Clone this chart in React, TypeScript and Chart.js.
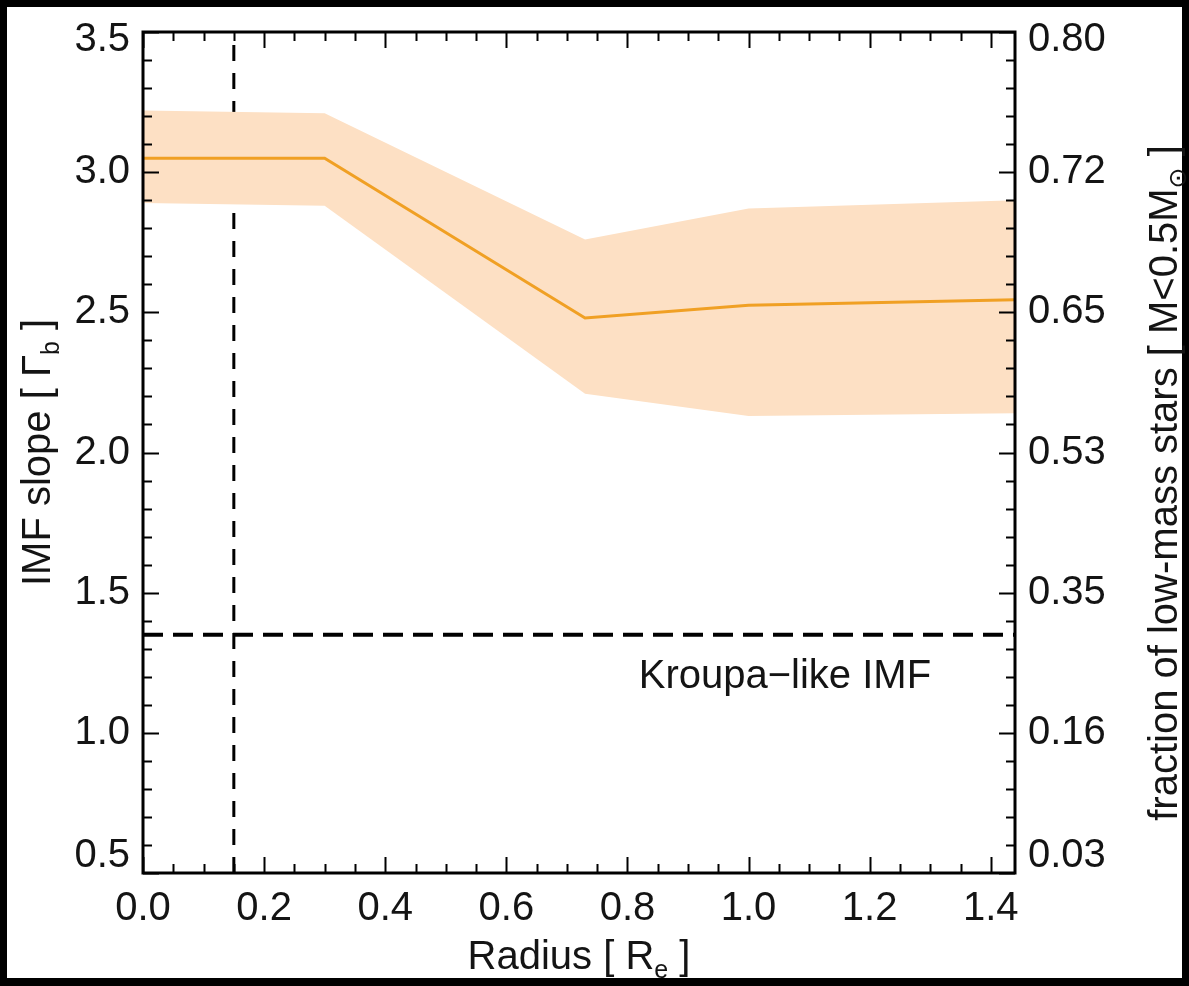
import React, { useEffect, useRef } from "react";
import { Chart, registerables } from "chart.js";

Chart.register(...registerables);

// ---- data ----
const radius = [0, 0.3, 0.73, 1.0, 1.44];
const imfSlope = [3.05, 3.05, 2.48, 2.525, 2.545];
const slopeUpper = [3.22, 3.21, 2.76, 2.87, 2.9];
const slopeLower = [2.89, 2.88, 2.21, 2.13, 2.14];

const kroupaSlope = 1.35;
const kroupaRadius = [0, 1.44];
const innerRadius = 0.15;
const innerSlopeRange = [0.5, 3.5];

const xTicks = [0, 0.2, 0.4, 0.6, 0.8, 1.0, 1.2, 1.4];
const yTicks = [0.5, 1.0, 1.5, 2.0, 2.5, 3.0, 3.5];
const fractionLabels = ["0.03", "0.16", "0.35", "0.53", "0.65", "0.72", "0.80"];

const kroupaText = "Kroupa\u2212like IMF";
const kroupaTextPos = { x: 1.06, y: 1.2 };

const FONT = '"Liberation Sans", Arial, "DejaVu Sans", sans-serif';
const W = 1189;
const H = 986;
const PLOT = { left: 143, right: 1015, top: 32, bottom: 873 };

type Part = { t: string; sub?: boolean };

function drawRich(ctx: CanvasRenderingContext2D, parts: Part[], cx: number, cy: number, rot: number, size: number) {
  ctx.save();
  ctx.translate(cx, cy);
  ctx.rotate(rot);
  const fMain = `${size}px ${FONT}`;
  const fSub = `${Math.round(size * 0.62)}px ${FONT}`;
  const widths: number[] = [];
  let total = 0;
  for (const p of parts) {
    ctx.font = p.sub ? fSub : fMain;
    const w = ctx.measureText(p.t).width;
    widths.push(w);
    total += w;
  }
  let x = -total / 2;
  ctx.textAlign = "left";
  ctx.textBaseline = "alphabetic";
  ctx.fillStyle = "#141414";
  const base = size * 0.36;
  parts.forEach((p, i) => {
    ctx.font = p.sub ? fSub : fMain;
    ctx.fillText(p.t, x, p.sub ? base + size * 0.22 : base);
    x += widths[i];
  });
  ctx.restore();
}

const decorPlugin = {
  id: "decor",
  beforeDraw(chart: any) {
    const ctx = chart.ctx as CanvasRenderingContext2D;
    ctx.save();
    ctx.fillStyle = "#000";
    ctx.fillRect(0, 0, W, H);
    ctx.fillStyle = "#fff";
    ctx.fillRect(7, 7, 1175, 971);
    ctx.restore();
  },
  afterDraw(chart: any) {
    const ctx = chart.ctx as CanvasRenderingContext2D;
    const a = chart.chartArea;
    const sx = chart.scales.x;
    const sy = chart.scales.y;
    ctx.save();
    ctx.strokeStyle = "#000";
    ctx.lineWidth = 2;
    ctx.beginPath();
    for (let k = 0; k <= 28; k++) {
      const px = Math.round(sx.getPixelForValue(k * 0.05)) + 0.5;
      const len = k % 4 === 0 ? 16 : 9;
      ctx.moveTo(px, a.bottom);
      ctx.lineTo(px, a.bottom - len);
      ctx.moveTo(px, a.top);
      ctx.lineTo(px, a.top + len);
    }
    for (let k = 0; k <= 30; k++) {
      const py = Math.round(sy.getPixelForValue(0.5 + k * 0.1)) + 0.5;
      const len = k % 5 === 0 ? 16 : 9;
      ctx.moveTo(a.left, py);
      ctx.lineTo(a.left + len, py);
      ctx.moveTo(a.right, py);
      ctx.lineTo(a.right - len, py);
    }
    ctx.stroke();
    ctx.lineWidth = 3;
    ctx.strokeRect(a.left, a.top, a.right - a.left, a.bottom - a.top);

    // Kroupa label
    ctx.font = `40px ${FONT}`;
    ctx.fillStyle = "#141414";
    ctx.textAlign = "center";
    ctx.textBaseline = "middle";
    ctx.fillText(kroupaText, sx.getPixelForValue(kroupaTextPos.x), sy.getPixelForValue(kroupaTextPos.y));
    ctx.restore();

    // axis titles
    drawRich(ctx, [{ t: "Radius [ R" }, { t: "e", sub: true }, { t: " ]" }], (a.left + a.right) / 2, 955, 0, 40);
    drawRich(ctx, [{ t: "IMF slope [ \u0393" }, { t: "b", sub: true }, { t: " ]" }], 36, (a.top + a.bottom) / 2, -Math.PI / 2, 40);
    drawRich(
      ctx,
      [{ t: "fraction of low-mass stars [ M<0.5M" }, { t: "\u2299", sub: true }, { t: " ]" }],
      1163,
      483,
      -Math.PI / 2,
      40
    );
  },
};

// end labels pulled slightly inward, as in the reference
const endLabel = (label: string, i: number, n: number) =>
  i === 0 ? [label, ""] : i === n - 1 ? ["", label] : label;
const yTickFont = (c: any) => ({
  family: FONT,
  size: 40,
  lineHeight: c.index === 0 ? "34px" : c.index === yTicks.length - 1 ? "16px" : 1.2,
});

export default function App() {
  const ref = useRef<HTMLCanvasElement | null>(null);
  useEffect(() => {
    document.body.style.margin = "0";
    document.body.style.background = "#000";
    const canvas = ref.current!;
    const pts = (ys: number[]) => radius.map((x, i) => ({ x, y: ys[i] }));
    const chart = new Chart(canvas, {
      type: "line",
      data: {
        datasets: [
          {
            data: pts(imfSlope),
            borderColor: "rgb(240,160,36)",
            borderWidth: 3,
            pointRadius: 0,
            fill: false,
          },
          {
            data: pts(slopeUpper),
            borderColor: "rgba(0,0,0,0)",
            borderWidth: 0,
            pointRadius: 0,
            fill: false,
          },
          {
            data: pts(slopeLower),
            borderColor: "rgba(0,0,0,0)",
            borderWidth: 0,
            pointRadius: 0,
            backgroundColor: "rgb(253,224,196)",
            fill: "-1",
          },
          {
            data: kroupaRadius.map((x) => ({ x, y: kroupaSlope })),
            borderColor: "#000",
            borderWidth: 4,
            borderDash: [20, 10],
            pointRadius: 0,
            fill: false,
          },
          {
            data: innerSlopeRange.map((y) => ({ x: innerRadius, y })),
            borderColor: "#000",
            borderWidth: 3,
            borderDash: [16, 12],
            pointRadius: 0,
            fill: false,
          },
        ],
      } as any,
      options: {
        responsive: false,
        animation: false,
        devicePixelRatio: 1,
        layout: { padding: { top: PLOT.top, left: 0, right: 0, bottom: 0 } },
        plugins: { legend: { display: false }, tooltip: { enabled: false } },
        scales: {
          x: {
            type: "linear",
            position: "bottom",
            min: 0,
            max: 1.44,
            grid: { display: false, drawTicks: false },
            border: { display: false },
            ticks: {
              padding: 12,
              font: { family: FONT, size: 40 },
              color: "#141414",
              maxRotation: 0,
              autoSkip: false,
              callback: (v: any) => Number(v).toFixed(1),
            },
            afterBuildTicks: (s: any) => {
              s.ticks = xTicks.map((value) => ({ value }));
            },
            afterFit: (s: any) => {
              s.height = H - PLOT.bottom;
            },
          },
          y: {
            type: "linear",
            position: "left",
            min: 0.5,
            max: 3.5,
            grid: { display: false, drawTicks: false },
            border: { display: false },
            ticks: {
              padding: 13,
              font: yTickFont,
              color: "#141414",
              autoSkip: false,
              callback: (v: any, i: number) => endLabel(Number(v).toFixed(1), i, yTicks.length),
            },
            afterBuildTicks: (s: any) => {
              s.ticks = yTicks.map((value) => ({ value }));
            },
            afterFit: (s: any) => {
              s.width = PLOT.left;
            },
          },
          y2: {
            type: "linear",
            position: "right",
            min: 0.5,
            max: 3.5,
            grid: { display: false, drawTicks: false },
            border: { display: false },
            ticks: {
              padding: 13,
              font: yTickFont,
              color: "#141414",
              autoSkip: false,
              callback: (_v: any, i: number) => endLabel(fractionLabels[i], i, yTicks.length),
            },
            afterBuildTicks: (s: any) => {
              s.ticks = yTicks.map((value) => ({ value }));
            },
            afterFit: (s: any) => {
              s.width = W - PLOT.right;
            },
          },
        },
      } as any,
      plugins: [decorPlugin],
    });
    return () => chart.destroy();
  }, []);
  return <canvas ref={ref} width={W} height={H} style={{ display: "block", width: W, height: H }} />;
}
